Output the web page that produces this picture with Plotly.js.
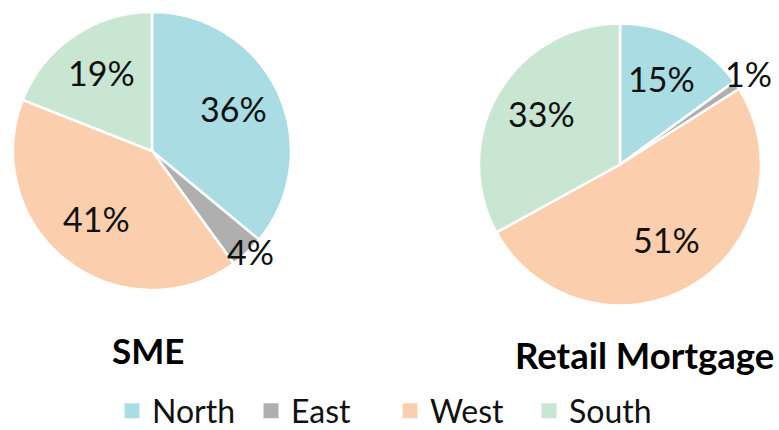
<!DOCTYPE html>
<html>
<head>
<meta charset="utf-8">
<script src="https://cdn.plot.ly/plotly-3.0.1.min.js"></script>
<style>html,body{margin:0;padding:0;background:#fff}#chart{width:779px;height:430px}</style>
</head>
<body>
<div id="chart"></div>
<script>
var regions = ['North', 'East', 'West', 'South'];
var smeValues = [36, 4, 41, 19];
var mortgageValues = [15, 1, 51, 33];
var chartTitles = ['SME', 'Retail Mortgage'];
var colors = ['#A9DCE3', '#AFAFAF', '#FBCFAD', '#C8E6D2'];

var W = 779, H = 430;
var LABEL_FONT = {family: 'Lato', size: 34, color: '#111111'};
// pie geometry (pixels): centre, radius, label distance factors (inside / small outside slice)
var pies = [
  {vals: smeValues, cx: 152, cy: 151, r: 139, outsideIdx: 1, fin: 0.65, fout: 1.03},
  {vals: mortgageValues, cx: 620, cy: 164.5, r: 141, outsideIdx: 1, fin: 0.65, fout: 1.10}
];

function pieTrace(p) {
  return {
    type: 'pie',
    labels: regions,
    values: p.vals,
    sort: false,
    direction: 'clockwise',
    rotation: 0,
    domain: {
      x: [(p.cx - p.r) / W, (p.cx + p.r) / W],
      y: [1 - (p.cy + p.r) / H, 1 - (p.cy - p.r) / H]
    },
    marker: {colors: colors, line: {color: '#ffffff', width: 2.5}},
    textinfo: 'none',
    showlegend: false,
    hoverinfo: 'label+percent'
  };
}

// percentage labels, placed along each slice's mid-angle
function sliceLabels(p) {
  var total = p.vals.reduce(function (a, b) { return a + b; }, 0);
  var cum = 0;
  return p.vals.map(function (v, i) {
    var mid = (cum + v / 2) / total * 2 * Math.PI;
    cum += v;
    var rr = p.r * (i === p.outsideIdx ? p.fout : p.fin);
    var px = p.cx + rr * Math.sin(mid);
    var py = p.cy - rr * Math.cos(mid);
    return {
      text: v + '%',
      x: px / W, y: 1 - py / H, xref: 'paper', yref: 'paper',
      xanchor: 'center', yanchor: 'middle', yshift: 4,
      showarrow: false, font: LABEL_FONT
    };
  });
}

// legend entries (square swatches)
var legendTraces = regions.map(function (name, i) {
  return {
    type: 'scatter', mode: 'markers', name: name,
    x: [null], y: [null],
    marker: {symbol: 'square', size: 15, color: colors[i]},
    hoverinfo: 'skip'
  };
});

var data = pies.map(pieTrace).concat(legendTraces);
var annotations = [].concat(sliceLabels(pies[0]), sliceLabels(pies[1]), [
  {text: '<b>' + chartTitles[0] + '</b>', x: 148 / W, y: 1 - 350 / H, xref: 'paper', yref: 'paper', xanchor: 'center', yanchor: 'middle', showarrow: false, font: {family: 'Lato', size: 35, color: '#000'}},
  {text: '<b>' + chartTitles[1] + '</b>', x: 644 / W, y: 1 - 355 / H, xref: 'paper', yref: 'paper', xanchor: 'center', yanchor: 'middle', showarrow: false, font: {family: 'Lato', size: 36.5, color: '#000'}}
]);

var layout = {
  width: W, height: H,
  margin: {l: 0, r: 0, t: 0, b: 0, autoexpand: false},
  paper_bgcolor: '#fff',
  plot_bgcolor: '#fff',
  xaxis: {visible: false, fixedrange: true},
  yaxis: {visible: false, fixedrange: true},
  showlegend: true,
  legend: {
    orientation: 'h',
    x: 112 / W, xanchor: 'left',
    y: 1 - 411 / H, yanchor: 'middle',
    entrywidth: 94,
    itemsizing: 'trace',
    font: {family: 'Lato', size: 32, color: '#111'},
    traceorder: 'normal'
  },
  annotations: annotations
};
Plotly.newPlot('chart', data, layout, {displayModeBar: false});
</script>
</body>
</html>
